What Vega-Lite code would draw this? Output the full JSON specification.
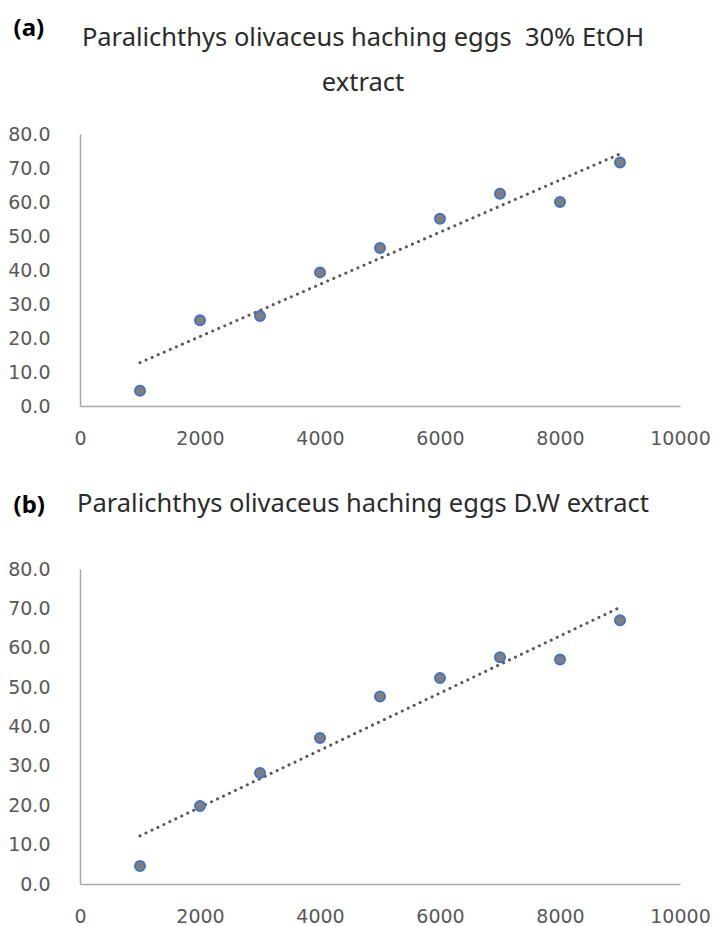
{
  "$schema": "https://vega.github.io/schema/vega-lite/v6.json",
  "background": "white",
  "padding": {"left": 7, "top": 16, "right": 0, "bottom": 0},
  "spacing": 43,
  "config": {
    "view": {"stroke": null},
    "axis": {
      "grid": false,
      "ticks": false,
      "tickSize": 0,
      "labelOverlap": false,
      "labelFlush": false,
      "domainColor": "#a6a6a6",
      "domainWidth": 1.5,
      "labelFont": "DejaVu Sans",
      "labelFontSize": 19,
      "labelColor": "#595959"
    },
    "title": {
      "font": "Noto Sans",
      "fontSize": 25.5,
      "fontWeight": "normal",
      "color": "#2b2b2b",
      "anchor": "middle",
      "lineHeight": 45
    }
  },
  "datasets": {
    "a": [
      {"conc": 1000, "value": 4.5},
      {"conc": 2000, "value": 25.2},
      {"conc": 3000, "value": 26.5},
      {"conc": 4000, "value": 39.3},
      {"conc": 5000, "value": 46.5},
      {"conc": 6000, "value": 55.1},
      {"conc": 7000, "value": 62.4},
      {"conc": 8000, "value": 60.0},
      {"conc": 9000, "value": 71.6}
    ],
    "b": [
      {"conc": 1000, "value": 4.6},
      {"conc": 2000, "value": 19.8},
      {"conc": 3000, "value": 28.2},
      {"conc": 4000, "value": 37.1},
      {"conc": 5000, "value": 47.6},
      {"conc": 6000, "value": 52.3},
      {"conc": 7000, "value": 57.6},
      {"conc": 8000, "value": 57.0},
      {"conc": 9000, "value": 67.0}
    ]
  },
  "vconcat": [
    {
      "width": 600,
      "height": 272,
      "data": {"name": "a"},
      "title": {
        "text": ["Paralichthys olivaceus haching eggs\u00a0 30% EtOH", "extract"],
        "dx": -17,
        "offset": -80
      },
      "encoding": {
        "x": {
          "field": "conc", "type": "quantitative",
          "scale": {"domain": [0, 10000], "nice": false, "zero": false},
          "axis": {"values": [0, 2000, 4000, 6000, 8000, 10000], "format": "d", "title": null, "labelPadding": 23, "labelOverlap": false, "labelFlush": false}
        },
        "y": {
          "field": "value", "type": "quantitative",
          "scale": {"domain": [0, 80], "nice": false},
          "axis": {
            "values": [0, 10, 20, 30, 40, 50, 60, 70, 80],
            "tickCount": 9,
            "format": ".1f",
            "labelOverlap": false,
            "labelFlush": false,
            "labelPadding": 30,
            "title": "(a)",
            "titleAngle": 0,
            "titleAlign": "left",
            "titleBaseline": "alphabetic",
            "titleX": -67,
            "titleY": -99,
            "titleFont": "Noto Sans",
            "titleFontSize": 24,
            "titleFontWeight": "bold",
            "titleColor": "#000000"
          }
        }
      },
      "layer": [
        {
          "mark": {"type": "line", "color": "#595959", "strokeWidth": 3, "strokeDash": [0.1, 6.5], "strokeCap": "round"},
          "transform": [{"regression": "value", "on": "conc", "extent": [1000, 9000]}]
        },
        {
          "mark": {"type": "point", "filled": true, "shape": "circle", "size": 100, "fill": "#7f7f7f", "stroke": "#4472c4", "strokeWidth": 2, "opacity": 1}
        }
      ]
    },
    {
      "width": 600,
      "height": 315,
      "data": {"name": "b"},
      "title": {
        "text": "Paralichthys olivaceus haching eggs D.W extract",
        "dx": -17,
        "offset": -24
      },
      "encoding": {
        "x": {
          "field": "conc", "type": "quantitative",
          "scale": {"domain": [0, 10000], "nice": false, "zero": false},
          "axis": {"values": [0, 2000, 4000, 6000, 8000, 10000], "format": "d", "title": null, "labelPadding": 23, "labelOverlap": false, "labelFlush": false}
        },
        "y": {
          "field": "value", "type": "quantitative",
          "scale": {"domain": [0, 80], "nice": false},
          "axis": {
            "values": [0, 10, 20, 30, 40, 50, 60, 70, 80],
            "tickCount": 9,
            "format": ".1f",
            "labelOverlap": false,
            "labelFlush": false,
            "labelPadding": 30,
            "title": "(b)",
            "titleAngle": 0,
            "titleAlign": "left",
            "titleBaseline": "alphabetic",
            "titleX": -67,
            "titleY": -57,
            "titleFont": "Noto Sans",
            "titleFontSize": 24,
            "titleFontWeight": "bold",
            "titleColor": "#000000"
          }
        }
      },
      "layer": [
        {
          "mark": {"type": "line", "color": "#595959", "strokeWidth": 3, "strokeDash": [0.1, 6.5], "strokeCap": "round"},
          "transform": [{"regression": "value", "on": "conc", "extent": [1000, 9000]}]
        },
        {
          "mark": {"type": "point", "filled": true, "shape": "circle", "size": 100, "fill": "#7f7f7f", "stroke": "#4472c4", "strokeWidth": 2, "opacity": 1}
        }
      ]
    }
  ]
}
